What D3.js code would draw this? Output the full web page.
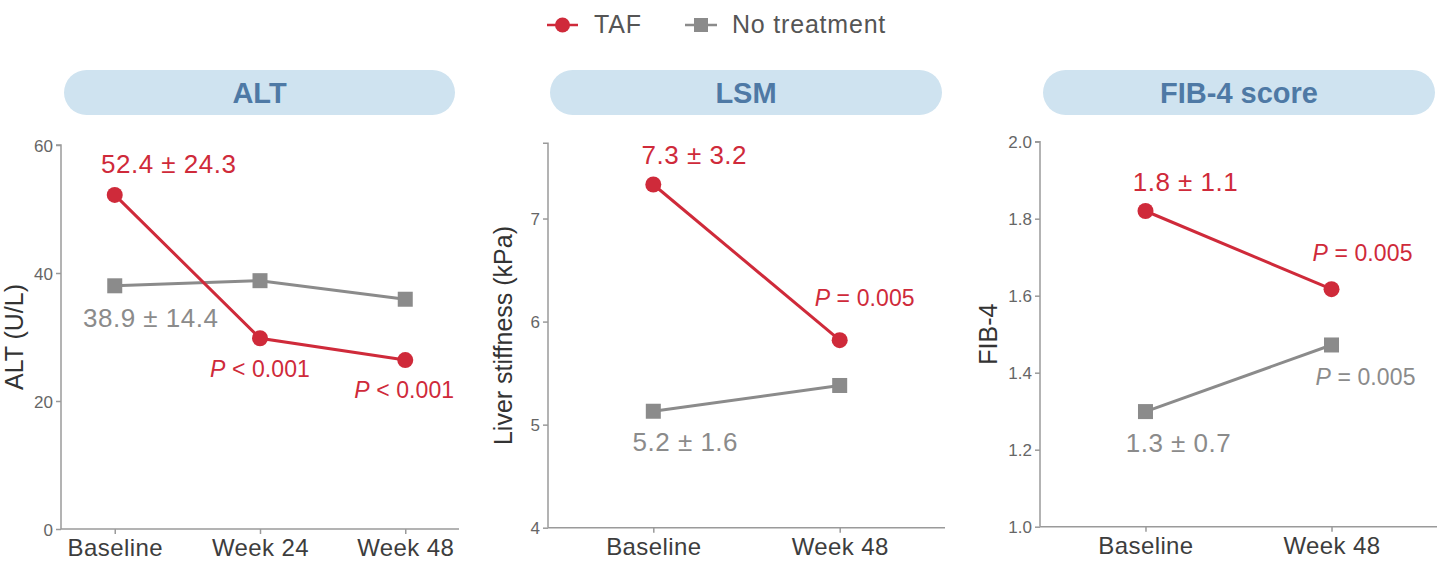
<!DOCTYPE html>
<html>
<head>
<meta charset="utf-8">
<script src="https://cdn.jsdelivr.net/npm/d3@7"></script>
<style>
  html, body { margin: 0; padding: 0; background: #fff; }
  svg { display: block; font-family: "Liberation Sans", Arial, Helvetica, sans-serif; }
</style>
</head>
<body>
<svg id="chart" width="1439" height="562"></svg>
<script>
// ---------- DATA ----------
const seriesNames = ["TAF", "No treatment"];

const altCategories = ["Baseline", "Week 24", "Week 48"];
const altTAF = [52.2, 29.8, 26.4];
const altNoTx = [38.0, 38.8, 35.9];
const altTicks = [0, 20, 40, 60];

const lsmCategories = ["Baseline", "Week 48"];
const lsmTAF = [7.33, 5.82];
const lsmNoTx = [5.13, 5.38];
const lsmTicks = [4, 5, 6, 7];

const fibCategories = ["Baseline", "Week 48"];
const fibTAF = [1.82, 1.617];
const fibNoTx = [1.299, 1.472];
const fibTicks = [1.0, 1.2, 1.4, 1.6, 1.8, 2.0];

const panelTitles = ["ALT", "LSM", "FIB-4 score"];
const yTitles = ["ALT (U/L)", "Liver stiffness (kPa)", "FIB-4"];

// annotation: [series, categoryIndex, italic prefix, text]
const altNotes = [
  ["TAF", 0, "", "52.4 \u00b1 24.3"],
  ["No treatment", 0, "", "38.9 \u00b1 14.4"],
  ["TAF", 1, "P", " < 0.001"],
  ["TAF", 2, "P", " < 0.001"]
];
const lsmNotes = [
  ["TAF", 0, "", "7.3 \u00b1 3.2"],
  ["TAF", 1, "P", " = 0.005"],
  ["No treatment", 0, "", "5.2 \u00b1 1.6"]
];
const fibNotes = [
  ["TAF", 0, "", "1.8 \u00b1 1.1"],
  ["TAF", 1, "P", " = 0.005"],
  ["No treatment", 1, "P", " = 0.005"],
  ["No treatment", 0, "", "1.3 \u00b1 0.7"]
];

// ---------- LAYOUT / STYLE ----------
const colors = { "TAF": "#cf2a3a", "No treatment": "#8b8b8b" };
const axisColor = "#9a9a9a";

const panels = [
  { cats: altCategories, taf: altTAF, notx: altNoTx, ticks: altTicks, domain: [0, 60], fmt: d3.format("d"),
    x0: 61, x1: 459, yTop: 145, yBot: 529, pad: 0.37, notes: altNotes,
    offsets: [[54, -22], [36, 41], [0, 38.5], [-1, 38]], pill: [64, 455], yTitleX: 23 },
  { cats: lsmCategories, taf: lsmTAF, notx: lsmNoTx, ticks: lsmTicks, domain: [4, 7.73], fmt: d3.format("d"),
    x0: 548, x1: 945, yTop: 143.3, yBot: 527.7, pad: 0.565, notes: lsmNotes,
    offsets: [[41, -21], [25, -34], [32, 40]], pill: [550, 942], yTitleX: 512 },
  { cats: fibCategories, taf: fibTAF, notx: fibNoTx, ticks: fibTicks, domain: [1.0, 2.0], fmt: d3.format(".1f"),
    x0: 1040, x1: 1437, yTop: 141.7, yBot: 526.7, pad: 0.567, notes: fibNotes,
    offsets: [[40, -20], [31, -28], [34, 40], [33, 40]], pill: [1043, 1435], yTitleX: 997 }
];

const svg = d3.select("#chart");

// ---------- LEGEND ----------
const legend = svg.append("g");
const legItems = [
  { name: seriesNames[0], lx0: 547, lx1: 578, tx: 594 },
  { name: seriesNames[1], lx0: 685, lx1: 717, tx: 732 }
];
legItems.forEach((it, i) => {
  const cy = 25;
  legend.append("line").attr("x1", it.lx0).attr("x2", it.lx1).attr("y1", cy).attr("y2", cy)
    .attr("stroke", colors[it.name]).attr("stroke-width", 2.5);
  const cx = (it.lx0 + it.lx1) / 2;
  if (i === 0) {
    legend.append("circle").attr("cx", cx).attr("cy", cy).attr("r", 7.5).attr("fill", colors[it.name]);
  } else {
    legend.append("rect").attr("x", cx - 7).attr("y", cy - 7).attr("width", 14).attr("height", 14).attr("fill", colors[it.name]);
  }
  legend.append("text").attr("x", it.tx).attr("y", 33).attr("font-size", 25).attr("fill", "#555")
    .attr("letter-spacing", 0.8).text(it.name);
});

// ---------- PANELS ----------
panels.forEach((p, pi) => {
  const g = svg.append("g");
  const x = d3.scalePoint().domain(p.cats).range([p.x0, p.x1]).padding(p.pad);
  const y = d3.scaleLinear().domain(p.domain).range([p.yBot, p.yTop]);

  // pill header
  const pw = p.pill[1] - p.pill[0];
  g.append("rect").attr("x", p.pill[0]).attr("y", 70).attr("width", pw).attr("height", 45)
    .attr("rx", 22.5).attr("ry", 22.5).attr("fill", "#cfe3f0");
  g.append("text").attr("x", p.pill[0] + pw / 2).attr("y", 102.5).attr("text-anchor", "middle")
    .attr("font-size", 29).attr("font-weight", "bold").attr("fill", "#4e79a5").text(panelTitles[pi]);

  // y axis
  const yAxis = d3.axisLeft(y).tickValues(p.ticks).tickFormat(p.fmt).tickSize(5).tickPadding(3);
  const ya = g.append("g").attr("transform", `translate(${p.x0},0)`).call(yAxis);
  ya.select(".domain").attr("stroke", axisColor).attr("stroke-width", 1.5)
    .attr("d", `M-5,${p.yTop}H0V${p.yBot}`);
  ya.selectAll(".tick line").attr("stroke", axisColor).attr("stroke-width", 1.5);
  ya.selectAll(".tick text").attr("font-size", 17).attr("fill", "#666")
    .attr("font-family", "'Liberation Sans', Arial, sans-serif").attr("dy", "0.36em");

  // x axis
  const xAxis = d3.axisBottom(x).tickSize(5).tickPadding(5);
  const xa = g.append("g").attr("transform", `translate(0,${p.yBot})`).call(xAxis);
  xa.select(".domain").attr("stroke", axisColor).attr("stroke-width", 1.5)
    .attr("d", `M${p.x0},0H${p.x1}`);
  xa.selectAll(".tick line").attr("stroke", axisColor).attr("stroke-width", 1.5);
  xa.selectAll(".tick text").attr("font-size", 24).attr("fill", "#3d3d3d").attr("letter-spacing", 0.4)
    .attr("font-family", "'Liberation Sans', Arial, sans-serif");

  // y title (centred on its baseline box)
  g.append("text").attr("transform", `translate(${p.yTitleX},${(p.yTop + p.yBot) / 2}) rotate(-90)`)
    .attr("text-anchor", "middle").attr("font-size", 25).attr("fill", "#333").text(yTitles[pi]);

  // series
  const seriesData = [
    { name: "TAF", vals: p.taf },
    { name: "No treatment", vals: p.notx }
  ];
  const line = d3.line().x((d, i) => x(p.cats[i])).y(d => y(d));
  [seriesData[1], seriesData[0]].forEach(s => {
    g.append("path").datum(s.vals).attr("d", line).attr("fill", "none")
      .attr("stroke", colors[s.name]).attr("stroke-width", 3);
    if (s.name === "TAF") {
      g.selectAll(null).data(s.vals).enter().append("circle")
        .attr("cx", (d, i) => x(p.cats[i])).attr("cy", d => y(d)).attr("r", 8)
        .attr("fill", colors[s.name]);
    } else {
      g.selectAll(null).data(s.vals).enter().append("rect")
        .attr("x", (d, i) => x(p.cats[i]) - 7.5).attr("y", d => y(d) - 7.5)
        .attr("width", 15).attr("height", 15).attr("fill", colors[s.name]);
    }
  });

  // annotations
  p.notes.forEach((n, ni) => {
    const [sname, ci, ital, txt] = n;
    const vals = sname === "TAF" ? p.taf : p.notx;
    const ax = x(p.cats[ci]) + p.offsets[ni][0];
    const ay = y(vals[ci]) + p.offsets[ni][1];
    const t = g.append("text").attr("x", ax).attr("y", ay).attr("text-anchor", "middle")
      .attr("fill", colors[sname]);
    if (ital) {
      t.attr("font-size", 23).attr("letter-spacing", 0.1);
      t.append("tspan").attr("font-style", "italic").text(ital);
      t.append("tspan").text(txt);
    } else {
      t.attr("font-size", 26).attr("letter-spacing", 0.5).text(txt);
    }
  });
});
</script>
</body>
</html>
